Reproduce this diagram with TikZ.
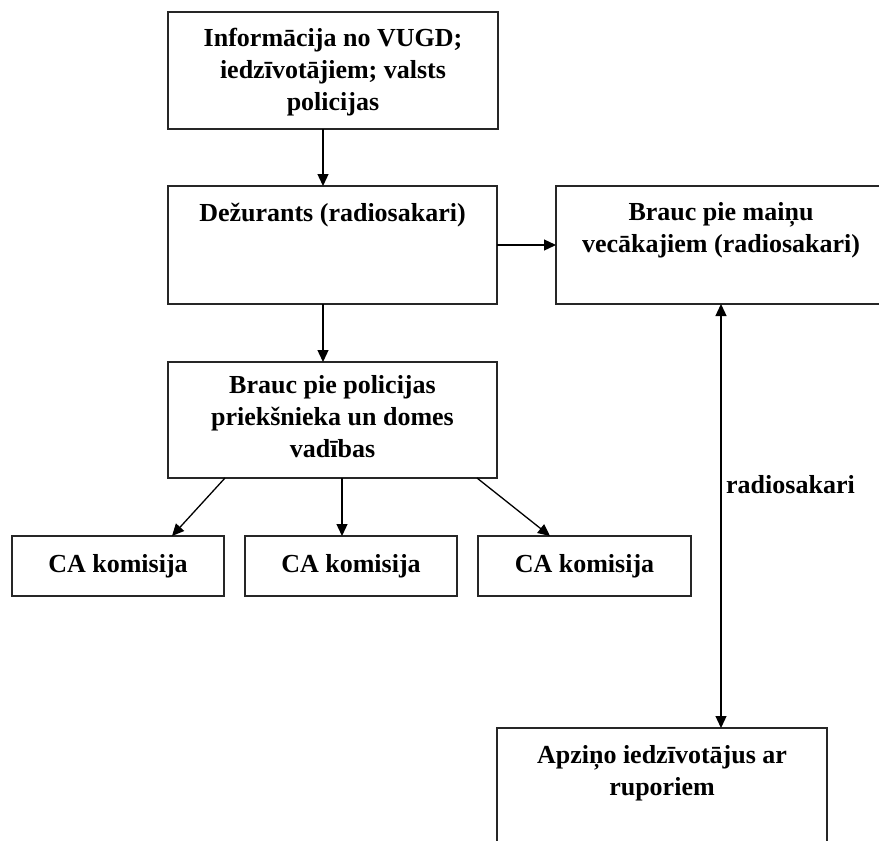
\documentclass[tikz,border=0pt]{standalone}
\usepackage{fontspec}
\setmainfont{Liberation Serif}
\usetikzlibrary{arrows.meta}
\begin{document}
\begin{tikzpicture}[x=1pt,y=-1pt,
  box/.style={draw=black!85, line width=1.7pt, inner sep=0pt, outer sep=0pt},
  txt/.style={inner sep=0pt, align=center, font=\fontsize{26}{32}\selectfont\bfseries},
  tip/.style={},
  arr/.style={line width=1.3pt, -{Triangle[length=12pt,width=11pt]}},
  arrb/.style={line width=1.3pt, {Triangle[length=12pt,width=11pt]}-{Triangle[length=12pt,width=11pt]}}]
\useasboundingbox (0,0) rectangle (879,841);
\clip (0,0) rectangle (879,841);
% boxes
\node[box, minimum width=330pt, minimum height=117pt] (b1) at (333,70.5) {};
\node[box, minimum width=329pt, minimum height=118pt] (b2) at (332.5,245) {};
\node[box, minimum width=330pt, minimum height=118pt] (b3) at (721,245) {};
\node[box, minimum width=329pt, minimum height=116pt] (b4) at (332.5,420) {};
\node[box, minimum width=212pt, minimum height=60pt] (c1) at (118,566) {};
\node[box, minimum width=212pt, minimum height=60pt] (c2) at (351,566) {};
\node[box, minimum width=213pt, minimum height=60pt] (c3) at (584.5,566) {};
\node[box, minimum width=330pt, minimum height=118pt] (b5) at (662,787) {};
% texts
\node[txt, anchor=north] (t1) at (333,28) {Informācija no VUGD;\\iedzīvotājiem; valsts\\policijas};
\node[txt, anchor=north] (t2) at (332.5,203) {Dežurants (radiosakari)};
\node[txt, anchor=north] (t3) at (721,202) {Brauc pie maiņu\\vecākajiem (radiosakari)};
\node[txt, anchor=north] (t4) at (332.5,375) {Brauc pie policijas\\priekšnieka un domes\\vadības};
\node[txt] (tc1) at (118,566) {CA komisija};
\node[txt] (tc2) at (351,566) {CA komisija};
\node[txt] (tc3) at (584.5,566) {CA komisija};
\node[txt, anchor=north] (t5) at (662,745) {Apziņo iedzīvotājus ar\\ruporiem};
\node[txt, anchor=west] (lab) at (726,485) {radiosakari};
% connectors
\draw[arr] ([xshift=-10pt]b1.south) -- ([xshift=-9.5pt]b2.north);
\draw[arr] (b2.east) -- (b3.west);
\draw[arr] ([xshift=-9.5pt]b2.south) -- ([xshift=-9.5pt]b4.north);
\draw[arr] ([xshift=-107.5pt]b4.south) -- ([xshift=54pt]c1.north);
\draw[arr] ([xshift=9.5pt]b4.south) -- ([xshift=-9pt]c2.north);
\draw[arr] ([xshift=144.5pt]b4.south) -- ([xshift=-34.5pt]c3.north);
\draw[arrb] (b3.south) -- (b3.south |- b5.north);
\end{tikzpicture}
\end{document}
